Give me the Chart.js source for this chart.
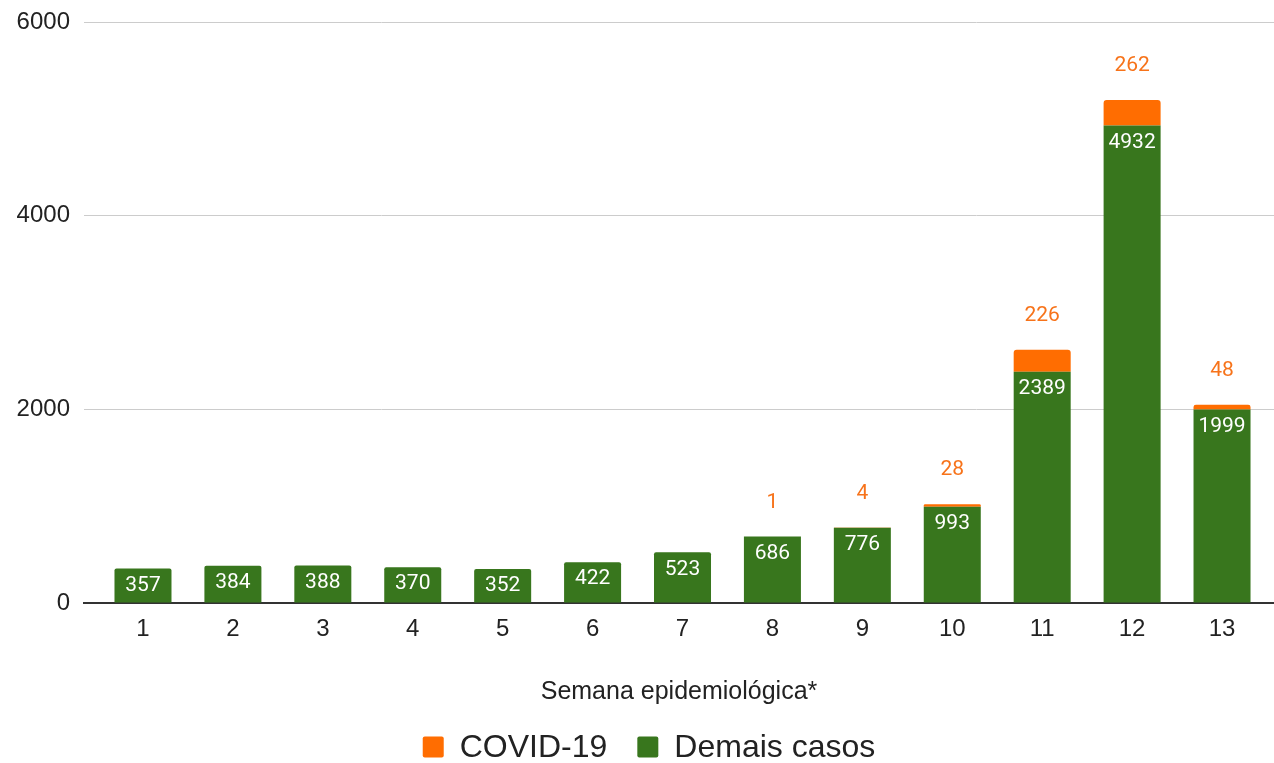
<!DOCTYPE html>
<html>
<head>
<meta charset="utf-8">
<script src="https://cdn.jsdelivr.net/npm/chart.js@4/dist/chart.umd.min.js"></script>
<style>
    html, body { margin: 0; padding: 0; background: #ffffff; }
    #wrap { width: 1274px; height: 763px; position: relative; }
</style>
</head>
<body>
<div id="wrap"><canvas id="chart"></canvas></div>
<script>
const weeks = [1, 2, 3, 4, 5, 6, 7, 8, 9, 10, 11, 12, 13];
const demaisCasos = [357, 384, 388, 370, 352, 422, 523, 686, 776, 993, 2389, 4932, 1999];
const covid19 = [0, 0, 0, 0, 0, 0, 0, 1, 4, 28, 226, 262, 48];
const yTicks = [0, 2000, 4000, 6000];
const legendLabels = ['COVID-19', 'Demais casos'];

const GREEN = '#38761d';
const ORANGE = '#ff6d01';
const AXIS_FONT = '"Liberation Sans", Arial, sans-serif';

// value labels: white inside green bars, orange above the stack
const valueLabels = {
    id: 'valueLabels',
    afterDatasetsDraw(chart) {
        const ctx = chart.ctx;
        ctx.save();
        ctx.font = '21px Roboto, sans-serif';
        ctx.textAlign = 'center';
        ctx.textBaseline = 'middle';

        const greenMeta = chart.getDatasetMeta(0);
        greenMeta.data.forEach((bar, i) => {
            ctx.fillStyle = '#ffffff';
            ctx.fillText(String(demaisCasos[i]), bar.x, bar.y + 17);
        });

        const orangeMeta = chart.getDatasetMeta(1);
        orangeMeta.data.forEach((bar, i) => {
            if (!covid19[i]) {
                return;
            }
            ctx.fillStyle = '#f7731a';
            ctx.fillText(String(covid19[i]), bar.x, bar.y - 34);
        });
        ctx.restore();
    }
};

// legend drawn by hand so it can sit close to the bottom edge
const bottomLegend = {
    id: 'bottomLegend',
    afterDraw(chart) {
        const ctx = chart.ctx;
        const colors = [ORANGE, GREEN];
        const box = 21;
        const gapText = 16;
        const gapItem = 30;
        const y = 747;

        ctx.save();
        ctx.font = '32px ' + AXIS_FONT;
        ctx.textBaseline = 'middle';
        ctx.textAlign = 'left';

        const widths = legendLabels.map((t) => ctx.measureText(t).width);
        let total = 0;
        widths.forEach((w, i) => {
            total += box + gapText + w + (i < widths.length - 1 ? gapItem : 0);
        });

        let x = 649 - total / 2;
        legendLabels.forEach((label, i) => {
            ctx.fillStyle = colors[i];
            ctx.beginPath();
            ctx.roundRect(x, y - box / 2, box, box, 2);
            ctx.fill();
            ctx.fillStyle = '#222222';
            ctx.fillText(label, x + box + gapText, y + 1);
            x += box + gapText + widths[i] + gapItem;
        });
        ctx.restore();
    }
};

new Chart(document.getElementById('chart'), {
    type: 'bar',
    data: {
        datasets: [
            {
                label: 'Demais casos',
                data: weeks.map((w, i) => ({ x: w, y: demaisCasos[i] })),
                backgroundColor: GREEN,
                borderRadius: (c) => (covid19[c.dataIndex] ? 0 : { topLeft: 2, topRight: 2 }),
                borderSkipped: 'bottom',
                barPercentage: 0.634,
                categoryPercentage: 1
            },
            {
                label: 'COVID-19',
                data: weeks.map((w, i) => ({ x: w, y: covid19[i] })),
                backgroundColor: ORANGE,
                borderRadius: { topLeft: 3, topRight: 3 },
                borderSkipped: 'bottom',
                barPercentage: 0.634,
                categoryPercentage: 1
            }
        ]
    },
    options: {
        responsive: true,
        maintainAspectRatio: false,
        animation: false,
        layout: { padding: { top: 22, right: 0, left: 0, bottom: 0 } },
        scales: {
            x: {
                type: 'linear',
                stacked: true,
                offset: false,
                min: 0.344,
                max: 13.578,
                afterBuildTicks: (scale) => {
                    scale.ticks = weeks.map((w) => ({ value: w }));
                },
                afterFit: (scale) => {
                    scale.height = 160;
                    scale.paddingLeft = 0;
                    scale.paddingRight = 0;
                },
                grid: { display: false, drawTicks: false },
                border: { display: true, color: '#333333', width: 2 },
                ticks: {
                    color: '#222222',
                    font: { family: AXIS_FONT, size: 24 },
                    padding: 12,
                    maxRotation: 0,
                    autoSkip: false,
                    callback: (v) => String(v)
                },
                title: {
                    display: true,
                    text: 'Semana epidemiológica*',
                    color: '#222222',
                    font: { family: AXIS_FONT, size: 25 },
                    padding: { top: 0, bottom: 56 }
                }
            },
            y: {
                stacked: true,
                min: 0,
                max: 6000,
                afterBuildTicks: (scale) => {
                    scale.ticks = yTicks.map((v) => ({ value: v }));
                },
                afterFit: (scale) => {
                    scale.width = 84;
                    scale.paddingTop = 0;
                    scale.paddingBottom = 0;
                },
                grid: { color: '#cccccc', lineWidth: 1, drawTicks: false },
                border: { display: false },
                ticks: {
                    color: '#222222',
                    font: { family: AXIS_FONT, size: 24 },
                    padding: 14,
                    callback: (v) => String(v)
                }
            }
        },
        plugins: {
            legend: { display: false },
            tooltip: { enabled: false }
        }
    },
    plugins: [valueLabels, bottomLegend]
});
</script>
</body>
</html>
